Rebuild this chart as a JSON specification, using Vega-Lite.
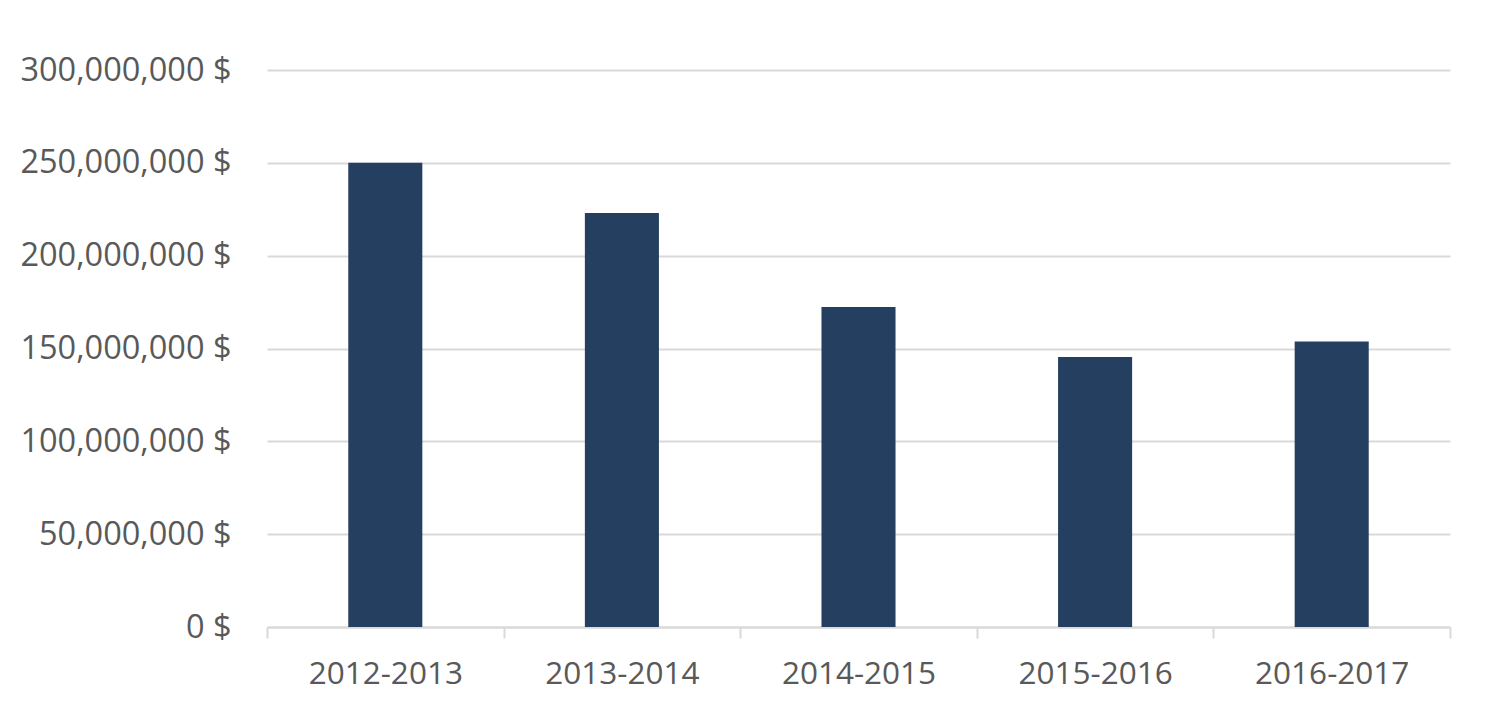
{
  "$schema": "https://vega.github.io/schema/vega-lite/v6.json",
  "width": 1183,
  "height": 557,
  "autosize": {"type": "none"},
  "padding": {"left": 267, "top": 70, "right": 50, "bottom": 87},
  "background": "white",
  "config": {"view": {"stroke": null}},
  "data": {
    "values": [
      {"year": "2012-2013", "amount": 250000000},
      {"year": "2013-2014", "amount": 223000000},
      {"year": "2014-2015", "amount": 172300000},
      {"year": "2015-2016", "amount": 145400000},
      {"year": "2016-2017", "amount": 153800000}
    ]
  },
  "mark": {"type": "bar", "color": "#253F60", "width": {"band": 0.313}},
  "encoding": {
    "x": {
      "field": "year",
      "type": "nominal",
      "sort": null,
      "scale": {"paddingInner": 0, "paddingOuter": 0},
      "axis": {
        "title": null,
        "labelAngle": 0,
        "labelFont": "Open Sans",
        "labelFontSize": 31.5,
        "labelColor": "#595959",
        "labelPadding": 20,
        "labelLimit": 0,
        "domainColor": "#D9D9D9",
        "domainWidth": 2,
        "tickColor": "#D9D9D9",
        "tickWidth": 2,
        "tickSize": 11,
        "tickBand": "extent",
        "grid": false
      }
    },
    "y": {
      "field": "amount",
      "type": "quantitative",
      "scale": {"domain": [0, 300000000], "nice": false},
      "axis": {
        "title": null,
        "values": [0, 50000000, 100000000, 150000000, 200000000, 250000000, 300000000],
        "labelExpr": "format(datum.value, ',') + ' $'",
        "labelFont": "Open Sans",
        "labelFontSize": 32.5,
        "labelColor": "#595959",
        "labelPadding": 36,
        "labelLimit": 0,
        "ticks": false,
        "domain": false,
        "grid": true,
        "gridColor": "#D9D9D9",
        "gridWidth": 2
      }
    }
  }
}
